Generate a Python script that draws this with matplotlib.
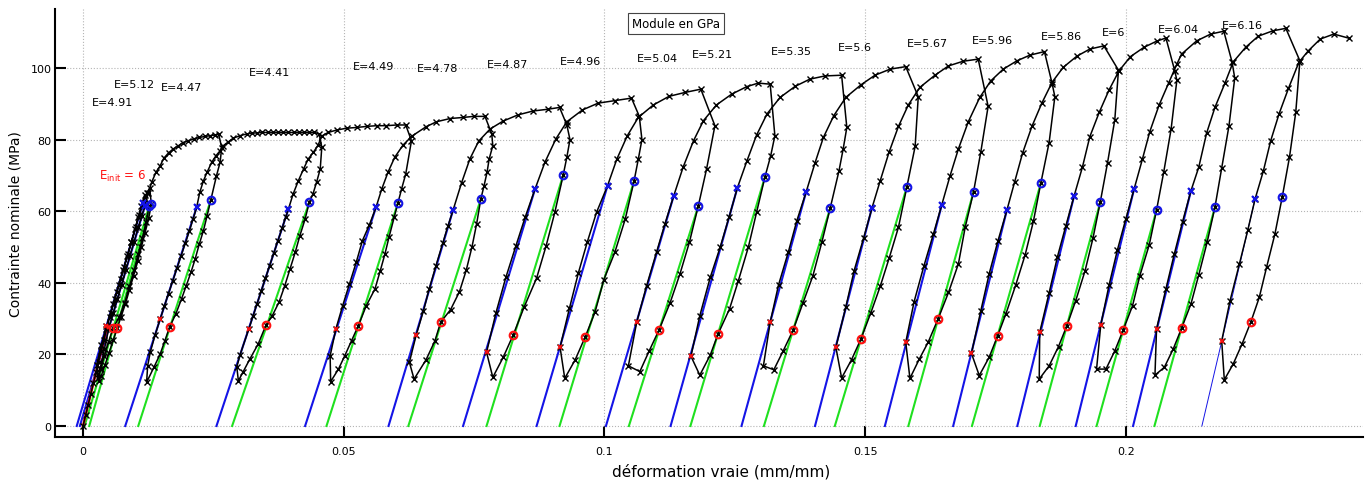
import matplotlib
matplotlib.use("Agg")
import matplotlib.pyplot as plt

# essai de traction cyclique : deformation vraie / contrainte nominale (MPa)
curve = [
    # charge initiale
    (0.0000, 0.0), (0.0005, 3.0), (0.0010, 6.0), (0.0015, 9.0), (0.0020, 12.0), (0.0025, 15.0),
    (0.0030, 18.0), (0.0035, 21.0), (0.0040, 24.0), (0.0045, 27.0), (0.0051, 30.5), (0.0058, 34.0),
    (0.0065, 37.5), (0.0072, 41.0), (0.0079, 44.5), (0.0086, 48.0), (0.0093, 51.5), (0.0100, 55.0),
    (0.0106, 58.5), (0.0112, 61.5), (0.0118, 64.5),
    # cycle 1
    (0.0127, 61.5), (0.0121, 57.0), (0.0114, 52.5), (0.0106, 48.0), (0.0098, 43.5), (0.0089, 39.0),
    (0.0080, 34.5), (0.0070, 30.5), (0.0058, 27.5), (0.0049, 23.5), (0.0041, 19.5), (0.0034, 16.0),
    (0.0028, 13.5),
    (0.0026, 17.0), (0.0035, 22.5), (0.0045, 27.8), (0.0053, 31.5), (0.0061, 35.5), (0.0069, 39.5),
    (0.0077, 43.5), (0.0085, 47.5), (0.0093, 51.5), (0.0101, 55.5), (0.0108, 59.0), (0.0115, 62.3),
    (0.0122, 65.0), (0.0128, 66.5),
    # cycle 2
    (0.0131, 62.0), (0.0126, 58.0), (0.0119, 54.0), (0.0112, 50.0), (0.0105, 46.0), (0.0097, 42.0),
    (0.0089, 38.0), (0.0081, 34.0), (0.0073, 30.5), (0.0066, 27.5), (0.0058, 24.0), (0.0050, 20.5),
    (0.0042, 17.0), (0.0035, 14.0), (0.0030, 12.5),
    (0.0033, 16.0), (0.0041, 21.5), (0.0050, 27.6), (0.0058, 31.5), (0.0066, 35.5), (0.0074, 39.5),
    (0.0082, 43.5), (0.0090, 47.5), (0.0098, 51.5), (0.0106, 55.5), (0.0113, 58.8), (0.0119, 61.6),
    (0.0125, 65.0), (0.0132, 68.2), (0.0140, 70.9), (0.0148, 72.7), (0.0155, 74.8), (0.0164, 76.3),
    (0.0173, 77.4), (0.0183, 78.3), (0.0192, 79.2), (0.0202, 79.7), (0.0212, 80.2), (0.0223, 80.6),
    (0.0234, 80.9), (0.0244, 81.1), (0.0253, 81.3), (0.0260, 81.6),
    # cycle 3
    (0.0266, 77.8), (0.0263, 73.7), (0.0256, 69.9), (0.0245, 63.1), (0.0238, 58.7), (0.0231, 54.6),
    (0.0223, 50.8), (0.0215, 46.6), (0.0207, 42.9), (0.0198, 39.2), (0.0189, 35.5), (0.0178, 31.3),
    (0.0166, 27.6), (0.0157, 23.8), (0.0148, 20.1), (0.0136, 16.4), (0.0122, 12.2),
    (0.0124, 16.8), (0.0129, 20.6), (0.0138, 25.3), (0.0148, 29.9), (0.0156, 33.5), (0.0164, 37.0),
    (0.0172, 40.5), (0.0180, 44.0), (0.0188, 47.5), (0.0196, 51.0), (0.0204, 54.5), (0.0211, 57.8),
    (0.0218, 61.1), (0.0224, 65.3), (0.0231, 68.5), (0.0238, 70.9), (0.0247, 73.7), (0.0255, 75.5),
    (0.0263, 76.9), (0.0269, 78.3), (0.0279, 79.4), (0.0288, 80.4), (0.0301, 81.1), (0.0314, 81.6),
    (0.0324, 81.8), (0.0334, 81.9), (0.0344, 82.0), (0.0354, 82.0), (0.0364, 82.0), (0.0374, 82.0),
    (0.0384, 82.0), (0.0394, 82.0), (0.0404, 82.0), (0.0414, 82.0), (0.0424, 82.0), (0.0434, 82.0),
    (0.0444, 82.0), (0.0453, 81.6),
    # cycle 4
    (0.0458, 77.9), (0.0455, 71.8), (0.0448, 68.1), (0.0441, 64.8), (0.0434, 62.5), (0.0426, 57.8),
    (0.0416, 53.2), (0.0407, 48.5), (0.0397, 43.9), (0.0387, 39.2), (0.0376, 34.6), (0.0363, 30.8),
    (0.0351, 28.2), (0.0336, 22.9), (0.0320, 18.7), (0.0307, 15.1), (0.0298, 12.6),
    (0.0295, 16.5), (0.0301, 19.8), (0.0318, 27.1), (0.0326, 30.7), (0.0334, 34.2), (0.0342, 37.8),
    (0.0350, 41.3), (0.0358, 44.8), (0.0366, 48.3), (0.0374, 51.8), (0.0382, 55.3), (0.0389, 58.4),
    (0.0394, 60.6), (0.0403, 64.8), (0.0413, 68.5), (0.0423, 71.8), (0.0432, 74.6), (0.0442, 76.5),
    (0.0451, 78.5), (0.0458, 81.0), (0.0470, 82.0), (0.0487, 82.7), (0.0506, 83.2), (0.0525, 83.4),
    (0.0544, 83.7), (0.0563, 83.9), (0.0582, 83.9), (0.0602, 84.1), (0.0619, 84.1),
    # cycle 5
    (0.0630, 79.7), (0.0619, 70.4), (0.0611, 66.2), (0.0604, 62.3), (0.0597, 58.3), (0.0587, 52.8),
    (0.0579, 48.0), (0.0570, 43.3), (0.0560, 38.3), (0.0543, 33.5), (0.0528, 28.0), (0.0515, 23.8),
    (0.0502, 19.6), (0.0490, 15.9), (0.0475, 12.4), (0.0474, 19.6),
    (0.0485, 27.1), (0.0498, 33.6), (0.0511, 39.7), (0.0524, 45.7), (0.0536, 51.8), (0.0549, 56.1),
    (0.0562, 61.1), (0.0573, 66.2), (0.0585, 70.9), (0.0598, 75.1), (0.0614, 78.5), (0.0631, 81.0),
    (0.0658, 83.6), (0.0678, 85.0), (0.0704, 85.9), (0.0729, 86.2), (0.0749, 86.5), (0.0771, 86.5),
    # cycle 6
    (0.0784, 81.6), (0.0786, 78.3), (0.0779, 74.6), (0.0775, 70.9), (0.0769, 67.0), (0.0763, 63.4),
    (0.0755, 56.5), (0.0746, 50.0), (0.0735, 43.5), (0.0722, 37.5), (0.0705, 32.5), (0.0686, 29.0),
    (0.0675, 23.8), (0.0658, 18.5), (0.0635, 13.1), (0.0626, 17.8),
    (0.0639, 25.4), (0.0653, 32.2), (0.0664, 38.3), (0.0677, 44.8), (0.0690, 51.1), (0.0700, 55.9),
    (0.0710, 60.4), (0.0726, 67.9), (0.0742, 74.6), (0.0759, 79.6), (0.0781, 83.0), (0.0806, 85.2),
    (0.0834, 86.9), (0.0863, 88.0), (0.0892, 88.5), (0.0914, 89.0),
    # cycle 7
    (0.0928, 84.1), (0.0934, 80.0), (0.0928, 75.1), (0.0921, 70.1), (0.0905, 59.7), (0.0888, 50.2),
    (0.0870, 41.3), (0.0846, 33.2), (0.0825, 25.4), (0.0806, 19.2), (0.0786, 13.6),
    (0.0774, 20.6), (0.0792, 31.6), (0.0811, 41.5), (0.0830, 50.2), (0.0848, 58.3), (0.0867, 66.2),
    (0.0886, 73.7), (0.0907, 80.2), (0.0928, 85.0), (0.0958, 88.3), (0.0988, 90.2), (0.1020, 90.9),
    (0.1052, 91.6),
    # cycle 8
    (0.1067, 86.5), (0.1072, 80.0), (0.1065, 74.5), (0.1057, 68.5), (0.1040, 57.8), (0.1020, 48.5),
    (0.0999, 40.9), (0.0982, 31.8), (0.0963, 24.8), (0.0944, 18.5), (0.0924, 13.3),
    (0.0915, 22.0), (0.0933, 32.9), (0.0950, 42.7), (0.0967, 51.3), (0.0985, 59.7), (0.1006, 67.1),
    (0.1024, 74.6), (0.1044, 81.1), (0.1065, 86.2), (0.1094, 89.7), (0.1124, 92.1), (0.1155, 93.2),
    (0.1185, 94.1),
    # cycle 9
    (0.1212, 83.9), (0.1196, 71.8), (0.1180, 61.4), (0.1163, 51.3), (0.1145, 42.5), (0.1126, 34.4),
    (0.1105, 26.9), (0.1086, 21.0), (0.1068, 15.2), (0.1046, 16.8),
    (0.1062, 29.0), (0.1081, 39.2), (0.1100, 48.5), (0.1116, 56.4), (0.1133, 64.3), (0.1151, 72.3),
    (0.1171, 79.7), (0.1190, 85.3), (0.1215, 89.7), (0.1244, 92.7), (0.1273, 94.8), (0.1295, 95.8),
    (0.1318, 95.5),
    # cycle 10
    (0.1327, 81.1), (0.1319, 75.5), (0.1308, 69.6), (0.1292, 59.7), (0.1276, 49.9), (0.1257, 40.6),
    (0.1240, 32.7), (0.1218, 25.7), (0.1203, 19.8), (0.1183, 14.2),
    (0.1166, 19.5), (0.1183, 30.8), (0.1203, 41.5), (0.1222, 49.9), (0.1239, 58.3), (0.1255, 66.5),
    (0.1273, 73.9), (0.1292, 81.3), (0.1312, 87.2), (0.1337, 91.8), (0.1366, 94.9), (0.1394, 96.9),
    (0.1423, 97.8), (0.1455, 98.0),
    # cycle 11
    (0.1465, 83.4), (0.1458, 77.4), (0.1450, 71.3), (0.1433, 60.8), (0.1417, 51.3), (0.1400, 42.0),
    (0.1381, 34.4), (0.1362, 26.8), (0.1343, 21.0), (0.1325, 15.7), (0.1305, 16.8),
    (0.1318, 29.0), (0.1334, 39.4), (0.1353, 48.7), (0.1369, 57.3), (0.1387, 65.4), (0.1404, 73.5),
    (0.1420, 80.6), (0.1440, 86.7), (0.1463, 91.8), (0.1492, 95.3), (0.1519, 98.0), (0.1548, 99.7),
    (0.1578, 100.4),
    # cycle 12
    (0.1602, 92.0), (0.1596, 78.1), (0.1580, 66.7), (0.1564, 55.5), (0.1546, 46.8), (0.1529, 39.0),
    (0.1511, 31.6), (0.1492, 24.3), (0.1474, 18.5), (0.1455, 13.4),
    (0.1444, 22.0), (0.1463, 33.2), (0.1479, 43.4), (0.1497, 52.4), (0.1513, 60.8), (0.1529, 68.5),
    (0.1546, 76.5), (0.1564, 83.7), (0.1583, 89.7), (0.1605, 94.6), (0.1634, 98.0), (0.1660, 100.6),
    (0.1688, 101.9), (0.1717, 102.5),
    # cycle 13
    (0.1736, 89.3), (0.1722, 76.6), (0.1708, 65.4), (0.1692, 55.5), (0.1679, 45.3), (0.1660, 37.3),
    (0.1640, 29.9), (0.1621, 23.4), (0.1604, 18.7), (0.1586, 13.3),
    (0.1578, 23.4), (0.1594, 34.7), (0.1613, 44.8), (0.1631, 53.6), (0.1647, 61.7), (0.1663, 69.9),
    (0.1679, 77.4), (0.1698, 85.0), (0.1720, 91.8), (0.1741, 96.4), (0.1765, 99.7), (0.1791, 102.0),
    (0.1816, 103.6), (0.1844, 104.6),
    # cycle 14
    (0.1859, 95.5), (0.1864, 92.0), (0.1853, 79.2), (0.1837, 67.8), (0.1823, 57.3), (0.1807, 47.8),
    (0.1789, 39.4), (0.1770, 31.3), (0.1754, 25.1), (0.1738, 19.2), (0.1719, 14.1),
    (0.1704, 20.3), (0.1722, 32.2), (0.1738, 42.5), (0.1755, 51.8), (0.1772, 60.3), (0.1787, 68.2),
    (0.1802, 76.2), (0.1820, 83.7), (0.1839, 90.2), (0.1859, 96.1), (0.1880, 100.2), (0.1906, 103.3),
    (0.1931, 105.3), (0.1958, 106.2),
    # cycle 15
    (0.1986, 99.4), (0.1979, 85.6), (0.1965, 73.5), (0.1951, 62.5), (0.1937, 52.4), (0.1922, 43.4),
    (0.1904, 35.0), (0.1887, 28.0), (0.1871, 22.2), (0.1853, 16.8), (0.1834, 13.1),
    (0.1835, 26.2), (0.1853, 37.2), (0.1869, 47.3), (0.1885, 55.9), (0.1901, 64.3), (0.1917, 72.4),
    (0.1931, 80.8), (0.1949, 87.6), (0.1968, 93.9), (0.1987, 99.2), (0.2009, 103.2), (0.2035, 105.8),
    (0.2059, 107.5), (0.2077, 108.4),
    # cycle 16
    (0.2094, 99.2), (0.2098, 96.6), (0.2087, 83.0), (0.2073, 71.1), (0.2059, 60.3), (0.2045, 50.6),
    (0.2027, 42.0), (0.2013, 33.6), (0.1995, 26.8), (0.1979, 21.0), (0.1962, 15.9), (0.1944, 15.9),
    (0.1952, 28.2), (0.1968, 39.4), (0.1984, 49.2), (0.2000, 57.8), (0.2016, 66.2), (0.2032, 74.6),
    (0.2046, 82.2), (0.2064, 89.7), (0.2082, 95.7), (0.2098, 101.1), (0.2107, 103.9), (0.2136, 107.6),
    (0.2163, 109.5), (0.2188, 110.3),
    # cycle 17
    (0.2204, 101.6), (0.2209, 97.2), (0.2198, 83.9), (0.2184, 72.0), (0.2171, 61.1), (0.2156, 51.3),
    (0.2140, 42.2), (0.2125, 34.1), (0.2107, 27.3), (0.2091, 21.5), (0.2074, 16.4), (0.2056, 14.2),
    (0.2059, 27.1), (0.2077, 38.3), (0.2093, 48.0), (0.2109, 57.1), (0.2125, 65.7), (0.2140, 72.3),
    (0.2155, 81.8), (0.2171, 89.0), (0.2190, 95.7), (0.2206, 101.7), (0.2230, 105.8), (0.2254, 108.9),
    (0.2282, 110.4), (0.2307, 111.1),
    # cycle 18
    (0.2334, 102.0), (0.2326, 87.6), (0.2314, 75.1), (0.2300, 63.9), (0.2286, 53.6), (0.2270, 44.3),
    (0.2256, 35.9), (0.2240, 29.1), (0.2223, 22.9), (0.2206, 17.3), (0.2189, 12.9),
    (0.2184, 23.8), (0.2200, 35.0), (0.2218, 45.3), (0.2234, 54.7), (0.2248, 63.4), (0.2264, 71.3),
    (0.2278, 79.7), (0.2294, 87.2), (0.2312, 94.3), (0.2332, 101.6), (0.2350, 104.8), (0.2373, 108.1),
    (0.2399, 109.5), (0.2429, 108.3),
]

# points de fit (recharge) : croix bleues / rouges
blue_x_eps = [0.0115, 0.0119, 0.0218, 0.0394, 0.0562, 0.0710, 0.0867, 0.1006, 0.1133,
              0.1255, 0.1387, 0.1513, 0.1647, 0.1772, 0.1901, 0.2016, 0.2125, 0.2248]
blue_x_sig = [62.3, 61.6, 61.1, 60.6, 61.1, 60.4, 66.2, 67.1, 64.3,
              66.5, 65.4, 60.8, 61.7, 60.3, 64.3, 66.2, 65.7, 63.4]
red_x_eps = [0.0045, 0.0050, 0.0148, 0.0318, 0.0485, 0.0639, 0.0774, 0.0915, 0.1062,
             0.1166, 0.1318, 0.1444, 0.1578, 0.1704, 0.1835, 0.1952, 0.2059, 0.2184]
red_x_sig = [27.8, 27.6, 29.9, 27.1, 27.1, 25.4, 20.6, 22.0, 29.0,
             19.5, 29.0, 22.0, 23.4, 20.3, 26.2, 28.2, 27.1, 23.8]
blue_base = [-0.0012, -0.0006, 0.0081, 0.0256, 0.0426, 0.0586, 0.0729, 0.0870, 0.1003,
             0.1127, 0.1263, 0.1404, 0.1538, 0.1669, 0.1792, 0.1904, 0.2014, 0.2146]

# points de fit (decharge) : cercles bleus / rouges
blue_o_eps = [0.0127, 0.0131, 0.0245, 0.0434, 0.0604, 0.0763, 0.0921, 0.1057, 0.1180,
              0.1308, 0.1433, 0.1580, 0.1708, 0.1837, 0.1951, 0.2059, 0.2171, 0.2300]
blue_o_sig = [61.5, 62.0, 63.1, 62.5, 62.3, 63.4, 70.1, 68.5, 61.4,
              69.6, 60.8, 66.7, 65.4, 67.8, 62.5, 60.3, 61.1, 63.9]
red_o_eps = [0.0058, 0.0066, 0.0166, 0.0351, 0.0528, 0.0686, 0.0825, 0.0963, 0.1105,
             0.1218, 0.1362, 0.1492, 0.1640, 0.1754, 0.1887, 0.1995, 0.2107, 0.2240]
red_o_sig = [27.5, 27.5, 27.6, 28.2, 28.0, 29.0, 25.4, 24.8, 26.9,
             25.7, 26.8, 24.3, 29.9, 25.1, 28.0, 26.8, 27.3, 29.1]
green_base = [0.0003, 0.0012, 0.0106, 0.0286, 0.0467, 0.0624, 0.0774, 0.0914, 0.1047,
              0.1165, 0.1306, 0.1442, 0.1583, 0.1705, 0.1835, 0.1944, 0.2055]

# module initial
init_eps = [0.0, 0.0045]
init_sig = [0.0, 27.0]

E_labels = ["E=4.91", "E=5.12", "E=4.47", "E=4.41", "E=4.49", "E=4.78", "E=4.87", "E=4.96", "E=5.04",
            "E=5.21", "E=5.35", "E=5.6", "E=5.67", "E=5.96", "E=5.86", "E=6", "E=6.04", "E=6.16"]
E_lab_x = [0.0017, 0.0060, 0.0149, 0.0319, 0.0518, 0.0641, 0.0774, 0.0915, 0.1063,
           0.1167, 0.1319, 0.1447, 0.1580, 0.1704, 0.1837, 0.1954, 0.2062, 0.2185]
E_lab_y = [89.8, 94.7, 94.0, 98.1, 99.8, 99.1, 100.3, 101.2, 102.1,
           103.1, 104.0, 105.1, 106.1, 107.1, 108.2, 109.1, 110.1, 111.2]

BLUE = "#1414e6"
GREEN = "#1fe01f"
RED = "#ff1010"

fig = plt.figure(figsize=(13.68, 4.81), dpi=100)
ax = fig.add_axes([55 / 1368, 1 - 438.3 / 481, (1363 - 55) / 1368, (438.3 - 10) / 481])

# droites de fit
for i in range(len(green_base)):
    ax.plot([green_base[i], blue_o_eps[i]], [0, blue_o_sig[i]], color=GREEN, lw=1.5, zorder=2)
for i in range(len(blue_base)):
    w = 0.7 if i == len(blue_base) - 1 else 1.5
    ax.plot([blue_base[i], blue_x_eps[i]], [0, blue_x_sig[i]], color=BLUE, lw=w, zorder=2)
ax.plot(init_eps, init_sig, color=RED, lw=1.8, zorder=2)

# courbe experimentale
eps = [p[0] for p in curve]
sig = [p[1] for p in curve]
ax.plot(eps, sig, color="black", lw=1.1, marker="x", ms=3.8, mew=1.0, zorder=3)

ax.plot(blue_x_eps, blue_x_sig, ls="none", marker="x", ms=4.5, mew=1.6, color=BLUE, zorder=4)
ax.plot(red_x_eps, red_x_sig, ls="none", marker="x", ms=3.5, mew=1.3, color=RED, zorder=4)
ax.plot(blue_o_eps, blue_o_sig, ls="none", marker="o", ms=5.5, mew=1.5, mfc="none", mec=BLUE, zorder=4)
ax.plot(red_o_eps, red_o_sig, ls="none", marker="o", ms=5.5, mew=1.5, mfc="none", mec=RED, zorder=4)

for lab, x, y in zip(E_labels, E_lab_x, E_lab_y):
    ax.text(x, y, lab, fontsize=8, va="baseline", ha="left")
ax.text(0.0031, 69.0, r"E$_{\mathrm{init}}$ = 6", color=RED, fontsize=8.5, va="baseline")
ax.text(0.1138, 112.5, "Module en GPa", fontsize=8.5, ha="center", va="center",
        bbox=dict(boxstyle="square,pad=0.35", fc="white", ec="#444444", lw=0.8))

ax.set_xlim(-0.00537, 0.2455)
ax.set_ylim(-3.16, 116.5)
ax.set_xticks([0, 0.05, 0.1, 0.15, 0.2])
ax.set_xticklabels(["0", "0.05", "0.1", "0.15", "0.2"])
ax.set_yticks([0, 20, 40, 60, 80, 100])
ax.grid(True, linestyle=":", color="#b5b5b5", lw=0.8)
ax.set_axisbelow(True)

for s in ["top", "right"]:
    ax.spines[s].set_visible(False)
for s in ["left", "bottom"]:
    ax.spines[s].set_linewidth(1.5)
ax.tick_params(direction="in", length=8, width=1.5, labelsize=8)
ax.tick_params(axis="x", pad=6.3)
ax.tick_params(axis="y", pad=2.4)

ax.set_xlabel("déformation vraie (mm/mm)", fontsize=11)
ax.xaxis.set_label_coords(0.509, -0.060)
ax.set_ylabel("Contrainte nominale (MPa)", fontsize=10)
ax.yaxis.set_label_coords(-0.0245, 0.5)

fig.savefig("out.png", dpi=100)
